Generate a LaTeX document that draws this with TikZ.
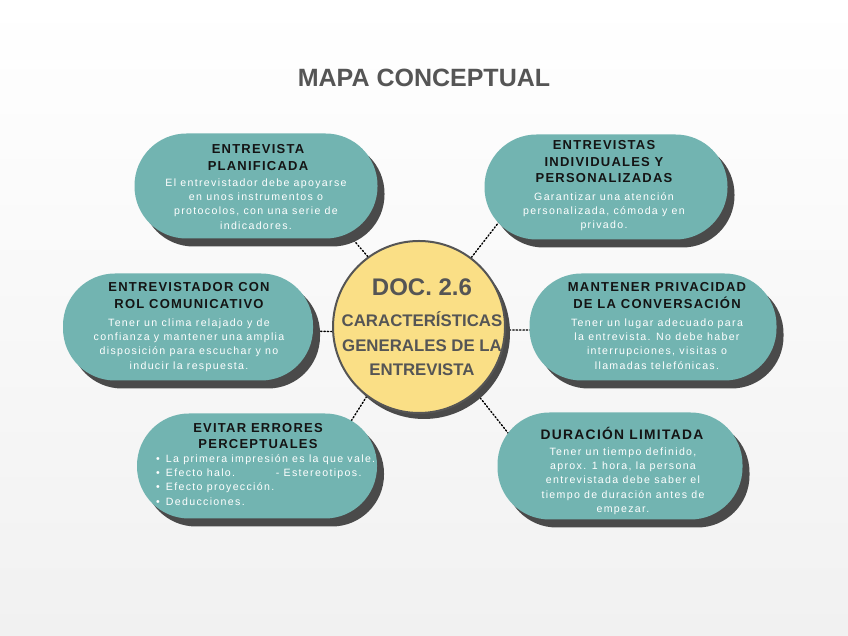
\documentclass[tikz,border=0pt]{standalone}
\usepackage{fontspec}
\setmainfont{Liberation Sans}
\newfontfamily\headfont[LetterSpace=9.5]{Liberation Sans}
\newfontfamily\bodyfont[LetterSpace=12.5]{Liberation Sans}
\usetikzlibrary{shadows,calc}
\definecolor{teal1}{HTML}{72B4B1}
\definecolor{shad}{HTML}{4A4A4A}
\definecolor{yel}{HTML}{FADF86}
\definecolor{grey5}{HTML}{555555}
\definecolor{bgc}{HTML}{F1F1F1}
\definecolor{headc}{HTML}{141414}
\pgfdeclarelayer{back}
\pgfdeclarelayer{background}
\pgfsetlayers{back,background,main}
\tikzset{
  pill/.style={fill=teal1, draw=none, rounded corners=52pt,
    general shadow={fill=shad, shadow xshift=7pt, shadow yshift=-8pt}},
  head/.style={font=\headfont\bfseries\fontsize{13}{16.8}\selectfont, text=headc, align=center, inner sep=0pt, anchor=base},
  body/.style={font=\bodyfont\fontsize{10.6}{14.2}\selectfont, text=white, align=center, inner sep=0pt, anchor=base},
  conn/.style={dotted, line width=1.4pt, black, line cap=round},
  ctext/.style={text=grey5, inner sep=0pt, anchor=base, align=center},
}
\begin{document}
\begin{tikzpicture}[x=1pt,y=1pt]
\useasboundingbox (0,0) rectangle (848,636);
\begin{pgfonlayer}{back}
  \shade[top color=white, bottom color=bgc] (0,0) rectangle (848,636);
\end{pgfonlayer}

\node[ctext, font=\bfseries\fontsize{25}{25}\selectfont] (title) at (424,549) {MAPA CONCEPTUAL};

% pills
\node[pill, minimum width=243pt, minimum height=105pt] (p1) at (256,450) {};
\node[pill, minimum width=243pt, minimum height=105pt] (p2) at (606,449) {};
\node[pill, minimum width=250pt, minimum height=107pt] (p3) at (188,309) {};
\node[pill, minimum width=247pt, minimum height=107pt] (p4) at (653,309) {};
\node[pill, minimum width=240pt, minimum height=105pt] (p5) at (257,170) {};
\node[pill, minimum width=245pt, minimum height=107pt] (p6) at (620,170) {};

% centre
\node[circle, fill=yel, draw=grey5, line width=2pt, minimum size=172pt,
  general shadow={fill=shad, shadow xshift=5pt, shadow yshift=-6pt}] (c) at (419,309) {};

% connectors
\coordinate (k1) at (350,400);
\coordinate (k2) at (499,414);
\coordinate (k3) at (306,305);
\coordinate (k4) at (539,306);
\coordinate (k5) at (348,210);
\coordinate (k6) at (512,198);
\begin{pgfonlayer}{background}
  \draw[conn] (c.126) -- (k1);
  \draw[conn] (c.53) -- (k2);
  \draw[conn] (c.183) -- (k3);
  \draw[conn] (c.-2) -- (k4);
  \draw[conn] (c.233) -- (k5);
  \draw[conn] (c.311) -- (k6);
\end{pgfonlayer}

% centre text
\node[ctext, font=\bfseries\fontsize{24}{24}\selectfont] (t0) at (422,340) {DOC. 2.6};
\node[ctext, font=\bfseries\fontsize{16.8}{24.5}\selectfont] (t1) at (422,260) {CARACTERÍSTICAS\\GENERALES DE LA\\ENTREVISTA};

% pill texts (base anchor = last line baseline)
\node[head] (h1) at (258,465.7) {ENTREVISTA\\PLANIFICADA};
\node[body] (b1) at (256,406.9) {El entrevistador debe apoyarse\\en unos instrumentos o\\protocolos, con una serie de\\indicadores.};

\node[head, font=\headfont\bfseries\fontsize{13}{16.5}\selectfont] (h2) at (604,453.3) {ENTREVISTAS\\INDIVIDUALES Y\\PERSONALIZADAS};
\node[body] (b2) at (604,407.1) {Garantizar una atención\\personalizada, cómoda y en\\privado.};

\node[head] (h3) at (189,327.5) {ENTREVISTADOR CON\\ROL COMUNICATIVO};
\node[body] (b3) at (189,266.9) {Tener un clima relajado y de\\confianza y mantener una amplia\\disposición para escuchar y no\\inducir la respuesta.};

\node[head] (h4) at (657,327.5) {MANTENER PRIVACIDAD\\DE LA CONVERSACIÓN};
\node[body] (b4) at (657,266.9) {Tener un lugar adecuado para\\la entrevista. No debe haber\\interrupciones, visitas o\\llamadas telefónicas.};

\node[head, font=\headfont\bfseries\fontsize{13}{15.5}\selectfont] (h5) at (258,187.8) {EVITAR ERRORES\\PERCEPTUALES};
\node[body, align=left, anchor=base west] (b5) at (156,130.9) {•\hspace{6pt}La primera impresión es la que vale.\\
•\hspace{6pt}\makebox[110pt][l]{Efecto halo.}- Estereotipos.\\
•\hspace{6pt}Efecto proyección.\\
•\hspace{6pt}Deducciones.};

\node[head, font=\headfont\bfseries\fontsize{13.8}{16.8}\selectfont] (h6) at (622,196.3) {DURACIÓN LIMITADA};
\node[body] (b6) at (623,123.7) {Tener un tiempo definido,\\aprox. 1 hora, la persona\\entrevistada debe saber el\\tiempo de duración antes de\\empezar.};
\end{tikzpicture}
\end{document}
